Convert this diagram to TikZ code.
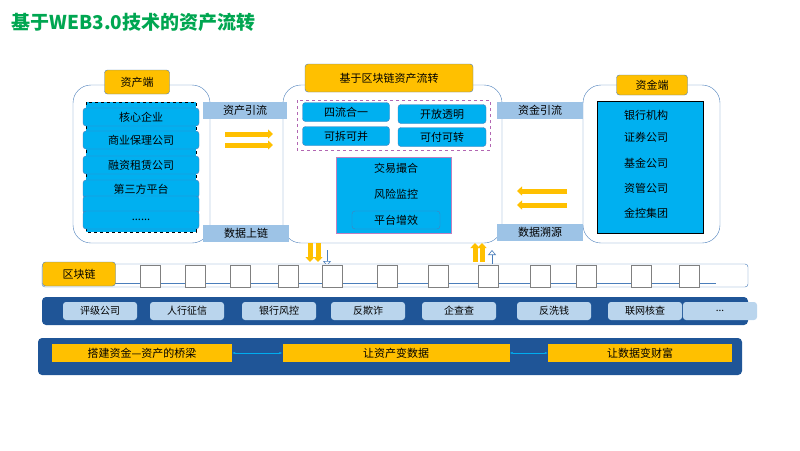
\documentclass[tikz,border=0pt]{standalone}
\usepackage{fontspec}
\setmainfont{Noto Sans CJK SC}
\usetikzlibrary{arrows.meta}
\definecolor{cyanbar}{HTML}{00B0F0}
\definecolor{lightbar}{HTML}{9DC3E6}
\definecolor{gold}{HTML}{FFC000}
\definecolor{navy}{HTML}{1F5597}
\definecolor{edge}{HTML}{4A7EBB}
\definecolor{titlegreen}{HTML}{00A651}
\tikzset{
  panel/.style = {draw = edge, rounded corners = 18pt, fill = white},
  tag/.style = {draw = edge, fill = gold, rounded corners = 3pt, font = \fontsize{11}{11}\selectfont},
  bar/.style = {draw = edge, fill = cyanbar, rounded corners = 3pt, font = \fontsize{11}{11}\selectfont},
  flow/.style = {fill = lightbar, font = \fontsize{11}{11}\selectfont},
  pill/.style = {fill = lightbar!70, rounded corners = 3pt, font = \fontsize{10}{10}\selectfont},
  goal/.style = {fill = gold, font = \fontsize{11}{11}\selectfont},
  fat/.style = {-{Triangle[length=5pt,width=9pt]}, line width = 5pt, draw = gold}
}
\begin{document}
\begin{tikzpicture}[x = 1pt, y = -1pt]
\useasboundingbox (0,0) rectangle (800,450);
\node[anchor = west, text = titlegreen, font = \fontsize{19}{19}\selectfont\bfseries] (title) at (8,22) {基于WEB3.0技术的资产流转};
% three panels
\draw[panel] (73,85) rectangle (210,243);
\draw[panel] (283,85) rectangle (502,243);
\draw[panel] (583,85) rectangle (720,243);
\draw[edge] (210,108) -- (283,108) (210,233) -- (283,233) (502,108) -- (583,108) (502,233) -- (583,233);
\node[tag, minimum width = 65pt, minimum height = 24pt] (assetTag) at (137,82) {资产端};
\node[tag, minimum width = 168pt, minimum height = 28pt] (chainTag) at (389,78) {基于区块链资产流转};
\node[tag, minimum width = 71pt, minimum height = 20pt] (fundTag) at (652,85) {资金端};
% asset side
\draw[dashed, fill = cyanbar] (86,102) rectangle (196,232);
\foreach \y/\t in {117/核心企业, 140/商业保理公司, 165/融资租赁公司, 189/第三方平台, 205/{}, 220/{......}}
  \node[bar, minimum width = 116pt, minimum height = 18pt] at (141,\y) {\t};
\node[flow, minimum width = 84pt, minimum height = 17pt] (assetFlow) at (245,110) {资产引流};
\node[flow, minimum width = 86pt, minimum height = 17pt] (dataUp) at (246,233) {数据上链};
\draw[fat] (225,134) -- (273,134);
\draw[fat] (225,145) -- (273,145);
% chain core
\draw[dashed, draw = violet!60] (297,100) rectangle (490,150);
\node[bar, minimum width = 87pt, minimum height = 19pt] (fourFlow) at (346,112) {四流合一};
\node[bar, minimum width = 87pt, minimum height = 19pt] (split) at (346,136) {可拆可并};
\node[bar, minimum width = 88pt, minimum height = 19pt] (open) at (442,114) {开放透明};
\node[bar, minimum width = 88pt, minimum height = 19pt] (pay) at (442,137) {可付可转};
\draw[draw = violet!50, fill = cyanbar] (336,157) rectangle (451,233);
\node[font = \fontsize{11}{11}\selectfont] (match) at (396,168) {交易撮合};
\node[font = \fontsize{11}{11}\selectfont] (risk) at (396,194) {风险监控};
\node[bar, minimum width = 88pt, minimum height = 18pt] (boost) at (396,220) {平台增效};
% fund side
\node[flow, minimum width = 86pt, minimum height = 17pt] (fundFlow) at (540,110) {资金引流};
\node[flow, minimum width = 86pt, minimum height = 17pt] (trace) at (540,232) {数据溯源};
\draw[fat] (567,191) -- (517,191);
\draw[fat] (567,205) -- (517,205);
\draw[draw = black, fill = cyanbar] (597,101) rectangle (703,233);
\foreach \y/\t in {115/银行机构, 137/证券公司, 163/基金公司, 188/资管公司, 213/金控集团}
  \node[font = \fontsize{11}{11}\selectfont] at (646,\y) {\t};
% links to chain
\draw[fat] (310,243) -- (310,262);
\draw[fat] (318,243) -- (318,262);
\draw[edge, -{Triangle[open,length=5pt,width=8pt]}, line width = 0.6pt] (327,250) -- (327,266);
\draw[fat] (475,262) -- (475,243);
\draw[fat] (482,262) -- (482,243);
\draw[edge, -{Triangle[open,length=5pt,width=8pt]}, line width = 0.6pt] (492,268) -- (492,250);
% block chain bar
\draw[edge, fill = white, rounded corners = 3pt] (42,264) rectangle (748,287);
\draw[edge, line width = 1pt] (88,283) -- (716,283);
\foreach \x in {140,185,230,278,322,377,428,478,530,576,631,679}
  \draw[fill = white, draw = gray] (\x,265) rectangle ++(20,22);
\node[tag, minimum width = 73pt, minimum height = 24pt] (chainBar) at (79,274) {区块链};
% data sources
\fill[navy, rounded corners = 4pt] (42,297) rectangle (748,325);
\foreach \x/\t in {100/评级公司, 187/人行征信, 279/银行风控, 368/反欺诈, 459/企查查, 554/反洗钱, 645/联网核查, 720/{...}}
  \node[pill, minimum width = 74pt, minimum height = 18pt] at (\x,311) {\t};
% goals
\fill[navy, rounded corners = 4pt] (38,338) rectangle (742,375);
\node[goal, minimum width = 180pt, minimum height = 18pt] (bridge) at (142,353) {搭建资金—资产的桥梁};
\node[goal, minimum width = 227pt, minimum height = 18pt] (toData) at (396,353) {让资产变数据};
\node[goal, minimum width = 184pt, minimum height = 18pt] (toWealth) at (640,353) {让数据变财富};
\draw[cyan, {Latex[length=3pt]}-{Latex[length=3pt]}] (bridge) -- (toData);
\draw[cyan, {Latex[length=3pt]}-{Latex[length=3pt]}] (toData) -- (toWealth);
\end{tikzpicture}
\end{document}
